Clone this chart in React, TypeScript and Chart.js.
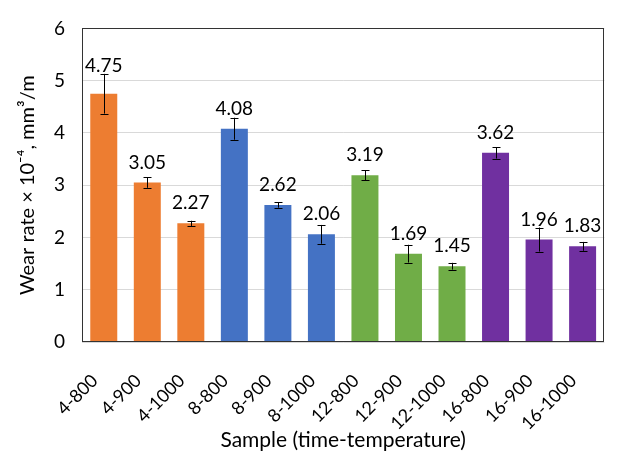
import React, { useEffect, useRef } from "react";
import { Chart, registerables } from "chart.js";

Chart.register(...registerables);

const categories = ["4-800", "4-900", "4-1000", "8-800", "8-900", "8-1000", "12-800", "12-900", "12-1000", "16-800", "16-900", "16-1000"];
const wearRate = [4.75, 3.05, 2.27, 4.08, 2.62, 2.06, 3.19, 1.69, 1.45, 3.62, 1.96, 1.83];
const wearError = [0.38, 0.1, 0.05, 0.21, 0.05, 0.18, 0.1, 0.17, 0.065, 0.11, 0.23, 0.085];
const groupColors = ["#ED7D31", "#4472C4", "#70AD47", "#7030A0"];
const yTicks = [0, 1, 2, 3, 4, 5, 6];

const barColors = categories.map((_, i) => groupColors[Math.floor(i / 3)]);

const FONT = "Lato";
const TEXT = "#000";

const overlayPlugin = {
  id: "overlay",
  afterDatasetsDraw(chart: any) {
    const ctx = chart.ctx as CanvasRenderingContext2D;
    const area = chart.chartArea;
    const ys = chart.scales.y;
    const meta = chart.getDatasetMeta(0);
    ctx.save();
    // plot frame
    ctx.strokeStyle = "#333";
    ctx.lineWidth = 1;
    ctx.strokeRect(Math.round(area.left) + 0.5, Math.round(area.top) + 0.5, Math.round(area.right - area.left) - 1, Math.round(area.bottom - area.top) - 1);
    // error bars and labels
    ctx.strokeStyle = "#000";
    ctx.fillStyle = TEXT;
    ctx.font = `19px ${FONT}`;
    ctx.textAlign = "center";
    ctx.textBaseline = "alphabetic";
    meta.data.forEach((bar: any, i: number) => {
      const x = Math.round(bar.x) + 0.5;
      const top = ys.getPixelForValue(wearRate[i] + wearError[i]);
      const bot = ys.getPixelForValue(wearRate[i] - wearError[i]);
      ctx.beginPath();
      ctx.moveTo(x, top);
      ctx.lineTo(x, bot);
      ctx.moveTo(x - 4, Math.round(top) + 0.5);
      ctx.lineTo(x + 4, Math.round(top) + 0.5);
      ctx.moveTo(x - 4, Math.round(bot) + 0.5);
      ctx.lineTo(x + 4, Math.round(bot) + 0.5);
      ctx.stroke();
      const ly = Math.min(bar.y - 14, top - 2);
      ctx.fillText(wearRate[i].toFixed(2), bar.x, ly);
    });
    ctx.restore();
  },
};

export default function App() {
  const canvasRef = useRef<HTMLCanvasElement | null>(null);

  useEffect(() => {
    if (!canvasRef.current) return;
    const chart = new Chart(canvasRef.current, {
      type: "bar",
      data: {
        labels: categories,
        datasets: [
          {
            data: wearRate,
            backgroundColor: barColors,
            borderWidth: 0,
            categoryPercentage: 1,
            barPercentage: 0.62,
          },
        ],
      },
      options: {
        animation: false,
        responsive: true,
        maintainAspectRatio: false,
        layout: { padding: { top: 16, right: 3, left: 0, bottom: 0 } },
        plugins: {
          legend: { display: false },
          tooltip: { enabled: false },
        },
        scales: {
          x: {
            grid: { display: false, drawTicks: false },
            border: { display: false },
            ticks: {
              autoSkip: false,
              minRotation: 45,
              maxRotation: 45,
              padding: 28,
              labelOffset: -9,
              color: TEXT,
              font: { family: FONT, size: 18 },
            },
            title: {
              display: true,
              text: "Sample (time-temperature)",
              color: TEXT,
              font: { family: FONT, size: 21 },
              padding: { top: 0, bottom: 2 },
            },
            afterFit: (s: any) => {
              s.height = 113;
            },
          },
          y: {
            min: 0,
            max: 6,
            afterBuildTicks: (s: any) => {
              s.ticks = yTicks.map((v) => ({ value: v }));
            },
            grid: { color: "#D9D9D9", drawTicks: false },
            border: { display: false },
            ticks: {
              padding: 17,
              color: TEXT,
              font: { family: FONT, size: 19 },
            },
            title: {
              display: true,
              text: "Wear rate × 10⁻⁴, mm³/m",
              color: TEXT,
              font: { family: FONT, size: 20 },
              padding: { top: 16, bottom: 0 },
            },
            afterFit: (s: any) => {
              s.width = 82;
            },
          },
        },
      },
      plugins: [overlayPlugin],
    });
    return () => chart.destroy();
  }, []);

  return (
    <div style={{ position: "fixed", left: 0, top: 0, width: 626, height: 455 }}>
      <canvas ref={canvasRef} />
    </div>
  );
}
